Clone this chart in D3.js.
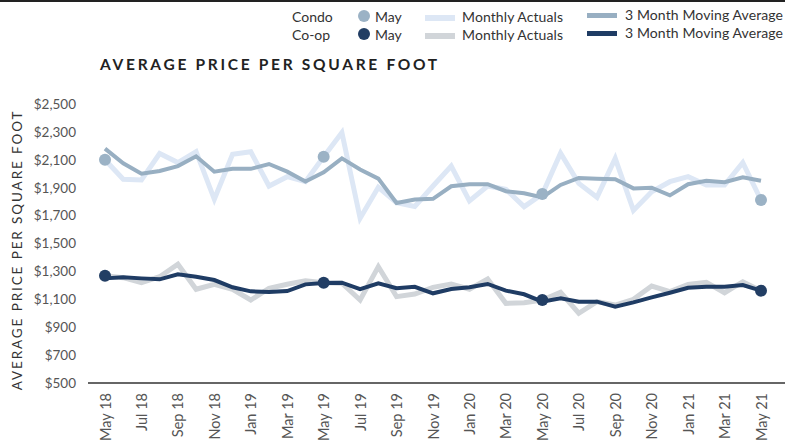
<!DOCTYPE html>
<meta charset="utf-8" />
<style>
  body { margin: 0; background: #fff; }
  text { font-family: Lato, "Noto Sans", sans-serif; }
  .line { fill: none; stroke-linejoin: miter; }
  .tick text { fill: #555; font-size: 13px; }
</style>
<body>
  <script src="https://d3js.org/d3.v7.min.js"></script>
  <script>
    // month labels (every month May 18 .. May 21)
    var months = ['May 18','Jun 18','Jul 18','Aug 18','Sep 18','Oct 18','Nov 18','Dec 18',
      'Jan 19','Feb 19','Mar 19','Apr 19','May 19','Jun 19','Jul 19','Aug 19','Sep 19','Oct 19',
      'Nov 19','Dec 19','Jan 20','Feb 20','Mar 20','Apr 20','May 20','Jun 20','Jul 20','Aug 20',
      'Sep 20','Oct 20','Nov 20','Dec 20','Jan 21','Feb 21','Mar 21','Apr 21','May 21'];
    var tickLabels = ['May 18','Jul 18','Sep 18','Nov 18','Jan 19','Mar 19','May 19','Jul 19',
      'Sep 19','Nov 19','Jan 20','Mar 20','May 20','Jul 20','Sep 20','Nov 20','Jan 21','Mar 21','May 21'];
    var yTicks = [500, 700, 900, 1100, 1300, 1500, 1700, 1900, 2100, 2300, 2500];

    var condoActual = [2100,1960,1955,2145,2080,2158,1817,2140,2158,1912,1979,1943,
      2122,2295,1681,1903,1793,1765,1912,2055,1805,1912,1888,1764,
      1855,2147,1931,1831,2110,1737,1871,1943,1979,1919,1919,2080,1812];
    var condoAvg = [2180,2075,2000,2020,2055,2125,2015,2035,2035,2070,2015,1945,
      2010,2110,2030,1965,1790,1815,1820,1910,1925,1925,1875,1860,
      1830,1920,1970,1965,1960,1895,1900,1845,1925,1950,1940,1975,1950];
    var coopActual = [1269,1255,1219,1262,1351,1172,1208,1172,1095,1179,1208,1233,
      1219,1215,1095,1334,1119,1138,1186,1210,1172,1246,1071,1076,
      1095,1150,1000,1083,1059,1100,1195,1155,1207,1222,1147,1226,1162];
    var coopAvg = [1250,1258,1250,1243,1279,1262,1238,1186,1157,1152,1159,1207,
      1217,1219,1172,1215,1179,1190,1143,1174,1186,1210,1162,1136,
      1083,1107,1083,1083,1047,1078,1114,1147,1183,1190,1190,1202,1162];
    var mayIdx = [0, 12, 24, 36];

    var W = 801, H = 447;
    var svg = d3.select('body').append('svg').attr('width', W).attr('height', H);

    var x = d3.scalePoint().domain(months).range([105, 761]);
    var y = d3.scaleLinear().domain([500, 2500]).range([383, 104]);

    // top rule
    svg.append('line').attr('x1', 0).attr('x2', 785).attr('y1', 1).attr('y2', 1)
      .attr('stroke', '#222').attr('stroke-width', 2);

    // title
    svg.append('text').attr('x', 100).attr('y', 70)
      .attr('font-size', 15.5).attr('font-weight', 700).attr('letter-spacing', 2.7)
      .attr('fill', '#222').text('AVERAGE PRICE PER SQUARE FOOT');

    // y axis label
    svg.append('text').attr('transform', 'translate(22,250) rotate(-90)')
      .attr('text-anchor', 'middle').attr('font-size', 13.5).attr('letter-spacing', 1.9)
      .attr('fill', '#333').text('AVERAGE PRICE PER SQUARE FOOT');

    // y axis (labels only)
    var yAxis = svg.append('g').attr('transform', 'translate(76,0)')
      .call(d3.axisLeft(y).tickValues(yTicks).tickSize(0).tickPadding(0)
        .tickFormat(function(d) { return '$' + d3.format(',')(d); }));
    yAxis.select('.domain').remove();
    yAxis.selectAll('.tick text').style('font-size', '13.5px');

    // x axis
    var xAxis = svg.append('g').attr('transform', 'translate(0,383)')
      .call(d3.axisBottom(x).tickValues(tickLabels).tickSize(0).tickPadding(0));
    xAxis.select('.domain').remove();
    xAxis.selectAll('.tick text')
      .style('font-size', '14.5px')
      .attr('transform', 'rotate(-90)')
      .attr('text-anchor', 'end')
      .attr('dy', '0.35em')
      .attr('x', -10).attr('y', 0);
    svg.append('line').attr('x1', 88).attr('x2', 785).attr('y1', 383).attr('y2', 383)
      .attr('stroke', '#333').attr('stroke-width', 1.5);

    var line = d3.line().x(function(d, i) { return x(months[i]); }).y(function(d) { return y(d); });

    function addLine(data, color, width) {
      svg.append('path').datum(data).attr('class', 'line')
        .attr('stroke', color).attr('stroke-width', width).attr('d', line);
    }
    addLine(condoActual, '#dde7f5', 5);
    addLine(coopActual, '#d1d5d9', 5);
    addLine(condoAvg, '#98afc2', 4);
    addLine(coopAvg, '#1f3c64', 4);

    function addDots(data, color) {
      svg.selectAll(null).data(mayIdx).enter().append('circle')
        .attr('cx', function(i) { return x(months[i]); })
        .attr('cy', function(i) { return y(data[i]); })
        .attr('r', 6).attr('fill', color);
    }
    addDots(condoActual, '#9bb2c5');
    addDots(coopActual, '#223e64');

    // legend
    var legendRows = [
      { name: 'Condo', dot: '#9bb2c5', actual: '#dde7f5', avg: '#98afc2', y: 17 },
      { name: 'Co-op', dot: '#223e64', actual: '#d1d5d9', avg: '#1f3c64', y: 35 }
    ];
    var fs = 14;
    var lg = svg.selectAll('.lg').data(legendRows).enter().append('g')
      .attr('transform', function(d) { return 'translate(0,' + d.y + ')'; });
    lg.append('text').attr('x', 292).attr('y', 5).attr('font-size', fs).attr('fill', '#333')
      .text(function(d) { return d.name; });
    lg.append('circle').attr('cx', 364).attr('cy', -1).attr('r', 6).attr('fill', function(d) { return d.dot; });
    lg.append('text').attr('x', 375).attr('y', 5).attr('font-size', fs).attr('fill', '#333').text('May');
    lg.append('rect').attr('x', 425).attr('y', -2).attr('width', 30).attr('height', 6)
      .attr('fill', function(d) { return d.actual; });
    lg.append('text').attr('x', 462).attr('y', 5).attr('font-size', fs).attr('fill', '#333')
      .attr('textLength', 101).text('Monthly Actuals');
    lg.append('rect').attr('x', 587).attr('y', -4).attr('width', 30).attr('height', 5)
      .attr('fill', function(d) { return d.avg; });
    lg.append('text').attr('x', 625).attr('y', 3).attr('font-size', fs).attr('fill', '#333')
      .attr('textLength', 158).text('3 Month Moving Average');
  </script>
</body>
